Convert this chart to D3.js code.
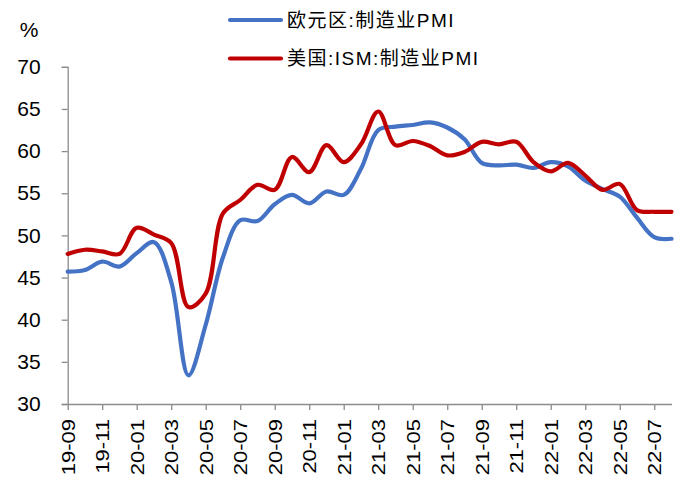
<!DOCTYPE html>
<html>
<head>
<meta charset="utf-8">
<script src="https://cdn.jsdelivr.net/npm/d3@7"></script>
<style>
  html, body { margin: 0; padding: 0; background: #fff; }
  svg { display: block; }
  text { font-family: "Liberation Sans", Arial, "Noto Sans CJK SC", sans-serif; fill: #000; }
</style>
</head>
<body>
<svg id="chart" width="681" height="481"></svg>
<script>
// Monthly manufacturing PMI, 2019-09 .. 2022-08
const months = [
  "19-09","19-10","19-11","19-12",
  "20-01","20-02","20-03","20-04","20-05","20-06","20-07","20-08","20-09","20-10","20-11","20-12",
  "21-01","21-02","21-03","21-04","21-05","21-06","21-07","21-08","21-09","21-10","21-11","21-12",
  "22-01","22-02","22-03","22-04","22-05","22-06","22-07","22-08"
];
const euroPMI = [
  45.7, 45.9, 46.9, 46.3,
  47.9, 49.2, 44.5, 33.4, 39.4, 47.4, 51.8, 51.7, 53.7, 54.8, 53.8, 55.2,
  54.8, 57.9, 62.5, 62.9, 63.1, 63.4, 62.8, 61.4, 58.6, 58.3, 58.4, 58.0,
  58.7, 58.2, 56.5, 55.5, 54.6, 52.1, 49.8, 49.6
];
const usISM = [
  47.8, 48.3, 48.1, 47.8,
  50.9, 50.1, 49.1, 41.5, 43.1, 52.6, 54.2, 56.0, 55.4, 59.3, 57.5, 60.7,
  58.7, 60.8, 64.7, 60.7, 61.2, 60.6, 59.5, 59.9, 61.1, 60.8, 61.1, 58.7,
  57.6, 58.6, 57.1, 55.4, 56.1, 53.0, 52.8, 52.8
];
const yTicks = [30, 35, 40, 45, 50, 55, 60, 65, 70];
const seriesNames = ["欧元区:制造业PMI", "美国:ISM:制造业PMI"];
const seriesColors = ["#4472C4", "#C00000"];

const svg = d3.select("#chart");
const axisColor = "#8c8c8c";

const x = d3.scalePoint().domain(months).range([67.7, 671.5]);
const y = d3.scaleLinear().domain([30, 70]).range([404, 66.8]);

// y axis
const yAxis = svg.append("g")
  .attr("transform", "translate(67.7,0)")
  .call(d3.axisLeft(y).tickValues(yTicks).tickSize(6).tickPadding(21).tickFormat(d3.format("d")));
yAxis.select(".domain").attr("stroke", axisColor).attr("stroke-width", 1.3);
yAxis.selectAll(".tick line").attr("stroke", axisColor).attr("stroke-width", 1.3);
yAxis.selectAll(".tick text").attr("font-size", 21).attr("fill", "#000")
  .attr("font-family", "Liberation Sans, Arial, sans-serif");

// x axis: tick and label every second month
const xTickVals = months.filter((d, i) => i % 2 === 0);
const xAxis = svg.append("g")
  .attr("transform", "translate(0,404)")
  .call(d3.axisBottom(x).tickValues(xTickVals).tickSize(6).tickSizeOuter(0));
xAxis.select(".domain").attr("stroke", axisColor).attr("stroke-width", 1.3);
xAxis.selectAll(".tick line").attr("stroke", axisColor).attr("stroke-width", 1.3);
xAxis.selectAll(".tick text")
  .attr("font-size", 22)
  .attr("fill", "#000")
  .attr("font-family", "Liberation Sans, Arial, sans-serif")
  .attr("text-anchor", "end")
  .attr("dy", "0.35em")
  .attr("transform", "translate(0,15) rotate(-90) scale(1,0.85)")
  .attr("x", 0).attr("y", 0);

// unit label
svg.append("text").attr("x", 29).attr("y", 37).attr("text-anchor", "middle")
  .attr("font-size", 21).text("%");

// smoothed series lines
const line = d3.line()
  .x((d, i) => x(months[i]))
  .y(d => y(d))
  .curve(d3.curveCatmullRom.alpha(0.5));

[euroPMI, usISM].forEach((vals, k) => {
  svg.append("path")
    .datum(vals)
    .attr("fill", "none")
    .attr("stroke", seriesColors[k])
    .attr("stroke-width", 4.2)
    .attr("stroke-linejoin", "round")
    .attr("stroke-linecap", "round")
    .attr("d", line);
});

// legend
const legend = svg.append("g");
seriesNames.forEach((name, k) => {
  const ly = 20 + k * 38.5;
  legend.append("line")
    .attr("x1", 230).attr("x2", 281).attr("y1", ly).attr("y2", ly)
    .attr("stroke", seriesColors[k]).attr("stroke-width", 4.2)
    .attr("stroke-linecap", "round");
  legend.append("text")
    .attr("x", 287).attr("y", ly).attr("dy", "0.36em")
    .attr("font-size", 19)
    .attr("letter-spacing", 1.5)
    .text(name);
});
</script>
</body>
</html>
